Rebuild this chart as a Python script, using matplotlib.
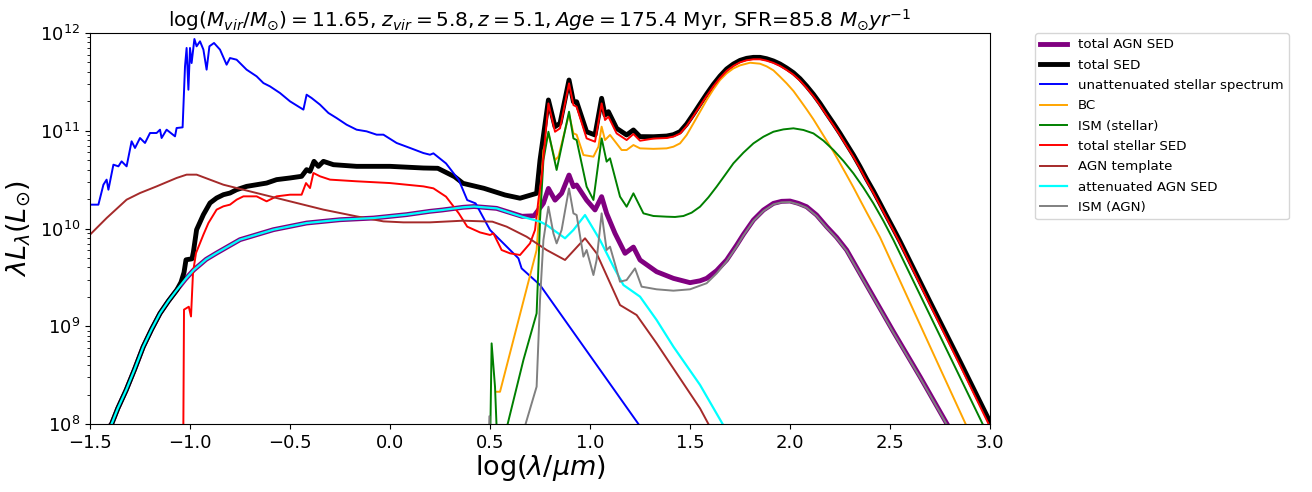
import numpy as np
import matplotlib
matplotlib.use('Agg')
import matplotlib.pyplot as plt

# log10(lambda/um) and log10(lambda L_lambda / L_sun)
blue_x = [-1.5, -1.458, -1.433, -1.417, -1.408, -1.383, -1.358, -1.342, -1.317, -1.292, -1.275, -1.25,
          -1.225, -1.2, -1.167, -1.15, -1.142, -1.117, -1.075, -1.067, -1.037, -1.025, -1.017, -1.008,
          -1.0, -0.992, -0.978, -0.967, -0.95, -0.933, -0.917, -0.903, -0.88, -0.85, -0.817, -0.8,
          -0.767, -0.717, -0.667, -0.633, -0.6, -0.55, -0.5, -0.433, -0.417, -0.392, -0.35, -0.308,
          -0.267, -0.217, -0.167, -0.117, -0.067, -0.033, 0.033, 0.1, 0.167, 0.2, 0.217, 0.28, 0.344,
          0.386, 0.428, 0.5, 0.642, 0.658, 0.75, 1.242, 1.30]
blue_y = [10.244, 10.244, 10.448, 10.5, 10.397, 10.653, 10.636, 10.687, 10.636, 10.892, 10.824, 10.926,
          10.875, 10.977, 10.977, 11.011, 10.926, 11.011, 10.943, 11.028, 11.035, 11.659, 11.847, 11.42,
          11.847, 11.693, 11.939, 11.864, 11.915, 11.83, 11.625, 11.864, 11.898, 11.83, 11.676, 11.744,
          11.727, 11.625, 11.557, 11.488, 11.454, 11.386, 11.301, 11.216, 11.369, 11.335, 11.267, 11.182,
          11.13, 11.062, 11.011, 10.994, 10.96, 10.96, 10.875, 10.824, 10.772, 10.755, 10.769, 10.666,
          10.496, 10.291, 10.257, 9.985, 9.695, 9.592, 9.422, 8.0, 7.83]

black_x = [-1.42, -1.392, -1.361, -1.319, -1.277, -1.234, -1.192, -1.15, -1.108, -1.066, -1.045, -1.03,
           -1.02, -0.99, -0.983, -0.967, -0.933, -0.9, -0.867, -0.833, -0.8, -0.767, -0.717, -0.667,
           -0.617, -0.567, -0.5, -0.442, -0.417, -0.4, -0.38, -0.358, -0.333, -0.283, -0.167, 0.0,
           0.167, 0.239, 0.323, 0.365, 0.47, 0.575, 0.65, 0.733, 0.75, 0.792, 0.825, 0.85, 0.895, 0.917,
           0.933, 0.983, 1.025, 1.058, 1.075, 1.092, 1.133, 1.183, 1.217, 1.25, 1.317, 1.383, 1.417,
           1.45, 1.483, 1.517, 1.55, 1.583, 1.617, 1.65, 1.683, 1.717, 1.75, 1.783, 1.817, 1.85, 1.883,
           1.917, 1.95, 1.983, 2.017, 2.05, 2.083, 2.117, 2.15, 2.183, 2.217, 2.25, 2.283, 2.317, 2.35,
           2.383, 2.417, 2.45, 2.483, 2.517, 2.55, 2.7, 2.85, 3.0]
black_y = [7.93, 8.0, 8.16, 8.348, 8.56, 8.79, 8.969, 9.132, 9.258, 9.371, 9.45, 9.55,
           9.68, 9.69, 9.76, 9.988, 10.142, 10.261, 10.312, 10.346, 10.363, 10.397, 10.431, 10.448,
           10.465, 10.5, 10.517, 10.534, 10.602, 10.585, 10.687, 10.636, 10.687, 10.653, 10.636, 10.636,
           10.619, 10.616, 10.53, 10.462, 10.411, 10.343, 10.31, 10.36, 10.70, 11.315, 11.042, 11.076,
           11.519, 11.297, 11.297, 10.99, 10.957, 11.332, 11.161, 11.195, 11.025, 10.957, 11.008, 10.94,
           10.939, 10.946, 10.96, 10.991, 11.069, 11.171, 11.274, 11.376, 11.475, 11.56, 11.632, 11.683,
           11.72, 11.741, 11.751, 11.751, 11.737, 11.714, 11.683, 11.642, 11.594, 11.533, 11.458, 11.373,
           11.28, 11.178, 11.076, 10.973, 10.864, 10.752, 10.633, 10.506, 10.384, 10.257, 10.128, 9.998,
           9.869, 9.25, 8.64, 8.02]

purple_x = [-1.42, -1.392, -1.361, -1.319, -1.277, -1.234, -1.192, -1.15, -1.108, -1.066, -1.024, -0.982,
            -0.919, -0.867, -0.75, -0.583, -0.417, -0.25, -0.083, 0.083, 0.2, 0.26, 0.365, 0.42, 0.533,
            0.66, 0.72, 0.767, 0.792, 0.825, 0.858, 0.895, 0.917, 0.933, 0.983, 1.025, 1.058, 1.083,
            1.125, 1.175, 1.217, 1.25, 1.333, 1.417, 1.5, 1.55, 1.583, 1.633, 1.683, 1.733, 1.767,
            1.817, 1.867, 1.917, 1.958, 2.0, 2.042, 2.083, 2.133, 2.183, 2.233, 2.283, 2.383, 2.517,
            2.65, 2.783, 2.85]
purple_y = [7.93, 8.0, 8.16, 8.348, 8.56, 8.79, 8.969, 9.132, 9.258, 9.371, 9.48, 9.575,
            9.685, 9.749, 9.886, 9.988, 10.056, 10.09, 10.107, 10.142, 10.176, 10.189, 10.217, 10.225,
            10.206, 10.125, 10.13, 10.258, 10.41, 10.29, 10.36, 10.547, 10.428, 10.445, 10.29, 10.19,
            10.326, 10.155, 9.95, 9.746, 9.81, 9.678, 9.558, 9.49, 9.446, 9.465, 9.49, 9.569, 9.678,
            9.83, 9.94, 10.087, 10.189, 10.257, 10.278, 10.281, 10.257, 10.223, 10.138, 10.019, 9.91,
            9.78, 9.422, 8.944, 8.484, 8.007, 7.77]

orange_x = [0.533, 0.55, 0.733, 0.75, 0.767, 0.792, 0.825, 0.842, 0.895, 0.917, 0.933, 0.967, 1.017,
            1.042, 1.058, 1.075, 1.1, 1.158, 1.183, 1.217, 1.25, 1.317, 1.383, 1.417, 1.45, 1.483,
            1.517, 1.55, 1.583, 1.617, 1.65, 1.683, 1.717, 1.75, 1.8, 1.85, 1.883, 1.917, 1.95, 1.983,
            2.017, 2.05, 2.083, 2.117, 2.15, 2.183, 2.217, 2.25, 2.283, 2.317, 2.35, 2.383, 2.417,
            2.45, 2.6, 2.75, 2.878, 2.95]
orange_y = [8.33, 8.33, 9.78, 10.29, 10.8, 10.97, 10.7, 10.735, 11.17, 10.973, 10.96, 10.752, 10.735,
            10.837, 11.042, 10.905, 10.957, 10.803, 10.803, 10.854, 10.82, 10.815, 10.82, 10.837, 10.871,
            10.956, 11.076, 11.195, 11.314, 11.424, 11.519, 11.587, 11.638, 11.669, 11.696, 11.686,
            11.659, 11.618, 11.553, 11.485, 11.407, 11.314, 11.219, 11.117, 11.008, 10.899, 10.786,
            10.667, 10.547, 10.421, 10.292, 10.165, 10.036, 9.91, 9.24, 8.57, 8.0, 7.68]

green_x = [0.495, 0.508, 0.525, 0.54, 0.667, 0.733, 0.742, 0.75, 0.767, 0.792, 0.833, 0.895, 0.917,
           0.933, 0.983, 1.017, 1.058, 1.083, 1.1, 1.15, 1.183, 1.217, 1.267, 1.317, 1.383, 1.425,
           1.467, 1.508, 1.55, 1.592, 1.633, 1.675, 1.717, 1.767, 1.817, 1.867, 1.917, 1.967, 2.017,
           2.067, 2.117, 2.167, 2.217, 2.267, 2.317, 2.367, 2.417, 2.467, 2.517, 2.75, 2.963, 3.0]
green_y = [7.0, 8.825, 8.38, 7.6, 8.655, 9.132, 9.61, 10.087, 10.7, 10.99, 10.599, 11.195, 10.922,
           10.905, 10.428, 10.292, 10.922, 10.684, 10.718, 10.326, 10.223, 10.36, 10.155, 10.128,
           10.121, 10.118, 10.128, 10.162, 10.223, 10.319, 10.428, 10.547, 10.667, 10.776, 10.871,
           10.939, 10.99, 11.014, 11.025, 11.008, 10.973, 10.899, 10.803, 10.691, 10.564, 10.418,
           10.257, 10.077, 9.882, 8.9, 8.0, 7.84]

red_x = [-1.036, -1.03, -1.006, -0.995, -0.985, -0.97, -0.933, -0.908, -0.867, -0.833, -0.8, -0.767,
         -0.733, -0.667, -0.617, -0.567, -0.5, -0.442, -0.42, -0.4, -0.383, -0.35, -0.3, -0.167, 0.0,
         0.167, 0.217, 0.28, 0.344, 0.386, 0.45, 0.5, 0.517, 0.558, 0.6, 0.65, 0.7, 0.725, 0.742, 0.758,
         0.792, 0.825, 0.85, 0.895, 0.917, 0.933, 0.983, 1.025, 1.058, 1.075, 1.092, 1.133, 1.183,
         1.217, 1.25, 1.317, 1.383, 1.417, 1.45, 1.483, 1.517, 1.55, 1.583, 1.617, 1.65, 1.683, 1.717,
         1.75, 1.783, 1.817, 1.85, 1.883, 1.917, 1.95, 1.983, 2.017, 2.05, 2.083, 2.117, 2.15, 2.183,
         2.217, 2.25, 2.283, 2.317, 2.35, 2.383, 2.417, 2.45, 2.483, 2.517, 2.55, 2.7, 2.85, 3.0]
red_y = [7.0, 9.17, 9.2, 9.1, 9.55, 9.749, 9.937, 10.056, 10.193, 10.227, 10.244, 10.295,
         10.329, 10.329, 10.278, 10.329, 10.346, 10.346, 10.465, 10.414, 10.568, 10.534, 10.5, 10.483,
         10.465, 10.431, 10.411, 10.326, 10.155, 10.019, 9.96, 9.934, 9.95, 9.78, 9.746, 9.729, 9.848,
         9.985, 10.29, 10.53, 11.28, 10.99, 11.025, 11.485, 11.263, 11.246, 10.922, 10.888, 11.28,
         11.11, 11.144, 10.973, 10.905, 10.967, 10.898, 10.92, 10.926, 10.94, 10.971, 11.049, 11.151,
         11.254, 11.356, 11.455, 11.54, 11.612, 11.663, 11.70, 11.721, 11.731, 11.731, 11.717, 11.694,
         11.663, 11.622, 11.574, 11.513, 11.438, 11.353, 11.26, 11.158, 11.056, 10.953, 10.844, 10.732,
         10.613, 10.486, 10.364, 10.237, 10.108, 9.978, 9.849, 9.22, 8.6, 7.97]

brown_x = [-1.5, -1.417, -1.317, -1.25, -1.167, -1.067, -1.017, -0.967, -0.833, -0.667, -0.5, -0.333,
           -0.167, -0.033, 0.067, 0.2, 0.365, 0.512, 0.583, 0.683, 0.783, 0.875, 0.975, 1.033, 1.15,
           1.233, 1.333, 1.55, 1.592, 1.65]
brown_y = [9.937, 10.107, 10.295, 10.363, 10.431, 10.517, 10.551, 10.551, 10.448, 10.363, 10.278, 10.193,
           10.124, 10.073, 10.063, 10.063, 10.08, 10.07, 10.019, 9.916, 9.78, 9.678, 9.9, 9.746, 9.217,
           9.115, 8.825, 8.16, 8.0, 7.8]

cyan_x = [-1.42, -1.392, -1.361, -1.319, -1.277, -1.234, -1.192, -1.15, -1.108, -1.066, -1.024, -0.982,
          -0.919, -0.867, -0.75, -0.583, -0.417, -0.25, -0.083, 0.083, 0.2, 0.26, 0.365, 0.42, 0.533,
          0.66, 0.75, 0.783, 0.875, 0.917, 0.975, 1.05, 1.117, 1.167, 1.25, 1.333, 1.417, 1.55, 1.663,
          1.70]
cyan_y = [7.93, 8.0, 8.16, 8.348, 8.56, 8.79, 8.969, 9.132, 9.258, 9.371, 9.48, 9.575,
          9.685, 9.749, 9.886, 9.988, 10.056, 10.09, 10.107, 10.142, 10.176, 10.189, 10.217, 10.225,
          10.206, 10.121, 10.07, 10.036, 9.9, 9.985, 10.138, 9.882, 9.61, 9.422, 9.303, 9.064, 8.791,
          8.4, 8.0, 7.87]

gray_x = [0.49, 0.497, 0.504, 0.62, 0.733, 0.75, 0.767, 0.792, 0.817, 0.833, 0.858, 0.895, 0.917,
          0.933, 0.967, 0.983, 1.017, 1.033, 1.058, 1.083, 1.1, 1.15, 1.183, 1.225, 1.258, 1.333, 1.417,
          1.5, 1.583, 1.633, 1.683, 1.733, 1.767, 1.817, 1.867, 1.917, 1.958, 2.0, 2.042, 2.083, 2.133,
          2.183, 2.233, 2.283, 2.383, 2.517, 2.65, 2.783, 2.85]
gray_y = [7.5, 8.08, 7.5, 7.6, 8.382, 9.27, 9.882, 10.223, 9.95, 9.848, 9.985, 10.41, 10.155,
          10.138, 9.712, 9.78, 9.524, 9.678, 10.155, 9.78, 9.814, 9.456, 9.473, 9.592, 9.405, 9.378,
          9.364, 9.378, 9.44, 9.54, 9.665, 9.815, 9.93, 10.077, 10.179, 10.247, 10.268, 10.271, 10.247,
          10.213, 10.128, 10.009, 9.9, 9.77, 9.412, 8.934, 8.474, 7.997, 7.76]

title = (r'$\log(M_{vir}/M_{\odot})=11.65$, $z_{vir}=5.8, z=5.1, Age=175.4$ Myr, '
         r'SFR=85.8 $M_{\odot}yr^{-1}$')

fig = plt.figure(figsize=(13.12, 4.92), dpi=100)
ax = fig.add_axes([0.0686, 0.1382, 0.6860, 0.7947])

ax.plot(purple_x, 10 ** np.array(purple_y), color='purple', lw=3.5, label='total AGN SED')
ax.plot(black_x, 10 ** np.array(black_y), color='black', lw=3.5, label='total SED')
ax.plot(blue_x, 10 ** np.array(blue_y), color='blue', lw=1.4, label='unattenuated stellar spectrum')
ax.plot(orange_x, 10 ** np.array(orange_y), color='orange', lw=1.4, label='BC')
ax.plot(green_x, 10 ** np.array(green_y), color='green', lw=1.4, label='ISM (stellar)')
ax.plot(red_x, 10 ** np.array(red_y), color='red', lw=1.4, label='total stellar SED')
ax.plot(brown_x, 10 ** np.array(brown_y), color='brown', lw=1.4, label='AGN template')
ax.plot(cyan_x, 10 ** np.array(cyan_y), color='cyan', lw=1.6, label='attenuated AGN SED')
ax.plot(gray_x, 10 ** np.array(gray_y), color='gray', lw=1.4, label='ISM (AGN)')

ax.set_yscale('log')
ax.set_xlim(-1.5, 3.0)
ax.set_ylim(1e8, 1e12)
ax.set_xticks(np.arange(-1.5, 3.01, 0.5))
ax.tick_params(labelsize=13)
ax.set_xlabel(r'$\log(\lambda/\mu m)$', fontsize=19.5, labelpad=1)
ax.set_ylabel(r'$\lambda L_{\lambda}(L_{\odot})$', fontsize=19.5)
ax.set_title(title, fontsize=14.5, pad=4)
ax.legend(loc='upper left', bbox_to_anchor=(1.05, 1.0), borderaxespad=0, fontsize=9.6,
          labelspacing=0.55)

fig.savefig('out.png', dpi=100)
